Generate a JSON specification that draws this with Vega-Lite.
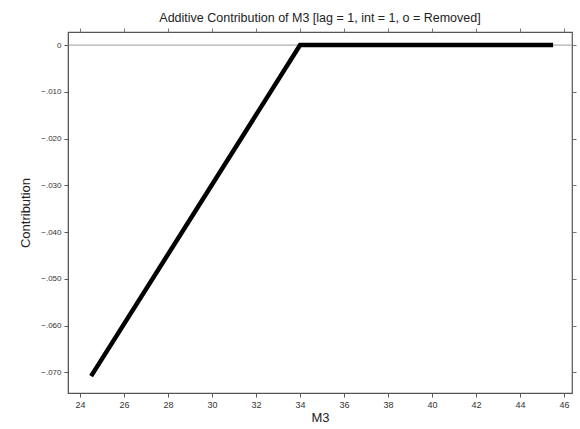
{
  "$schema": "https://vega.github.io/schema/vega-lite/v6.json",
  "width": 504,
  "height": 361,
  "autosize": {"type": "none"},
  "padding": {"left": 68, "top": 32, "right": 8, "bottom": 36},
  "background": "white",
  "title": {"text": "Additive Contribution of M3  [lag = 1, int = 1, o = Removed]", "font": "Liberation Sans", "fontSize": 12.5, "fontWeight": "normal", "color": "#222", "offset": 3},
  "config": {"view": {"stroke": "#555", "strokeWidth": 1.2}},
  "datasets": {
    "curve": [
      {"M3": 24.5, "Contribution": -0.0708},
      {"M3": 34.0, "Contribution": 0.0},
      {"M3": 45.5, "Contribution": 0.0}
    ],
    "ref": [{"y": 0}]
  },
  "layer": [
    {
      "data": {"name": "ref"},
      "mark": {"type": "rule", "color": "#999", "strokeWidth": 1},
      "encoding": {
        "y": {"field": "y", "type": "quantitative", "scale": {"domain": [-0.0744, 0.0028], "nice": false, "zero": false},
          "axis": {"orient": "right", "labels": false, "title": null, "grid": false, "tickSize": 4, "ticks": true, "domain": false, "values": [0, -0.01, -0.02, -0.03, -0.04, -0.05, -0.06, -0.07], "tickColor": "#777"}}
      }
    },
    {
      "data": {"name": "curve"},
      "mark": {"type": "line", "color": "#000", "strokeWidth": 4.5, "strokeCap": "butt"},
      "encoding": {
        "x": {"field": "M3", "type": "quantitative", "scale": {"domain": [23.45, 46.36], "nice": false, "zero": false},
          "axis": {"orient": "bottom", "values": [24, 26, 28, 30, 32, 34, 36, 38, 40, 42, 44, 46], "grid": false, "title": "M3", "titleFont": "Liberation Sans", "titleFontSize": 13, "titleFontWeight": "normal", "titleColor": "#222", "titlePadding": 2, "labelFont": "Liberation Sans", "labelFontSize": 9, "labelColor": "#333", "tickColor": "#555", "tickSize": 4, "domainColor": "#555", "labelPadding": 3}},
        "y": {"field": "Contribution", "type": "quantitative", "scale": {"domain": [-0.0744, 0.0028], "nice": false, "zero": false},
          "axis": {"orient": "left", "values": [0, -0.01, -0.02, -0.03, -0.04, -0.05, -0.06, -0.07], "grid": false, "title": "Contribution", "titleFont": "Liberation Sans", "titleFontSize": 13, "titleFontWeight": "normal", "titleColor": "#222", "titlePadding": 8, "labelFont": "Liberation Sans", "labelFontSize": 8, "labelColor": "#333", "tickColor": "#555", "tickSize": 4, "domainColor": "#555", "labelPadding": 3,
            "labelExpr": "datum.value == 0 ? '0' : replace(format(datum.value, '.3f'), '0.', '.')"}}
      }
    },
    {
      "data": {"name": "curve"},
      "mark": {"type": "point", "opacity": 0},
      "encoding": {
        "x": {"field": "M3", "type": "quantitative", "scale": {"domain": [23.45, 46.36], "nice": false, "zero": false},
          "axis": {"orient": "top", "labels": false, "title": null, "grid": false, "tickSize": 4, "domain": false, "values": [24, 26, 28, 30, 32, 34, 36, 38, 40, 42, 44, 46], "tickColor": "#777"}}
      }
    }
  ],
  "resolve": {"axis": {"x": "independent", "y": "independent"}}
}
